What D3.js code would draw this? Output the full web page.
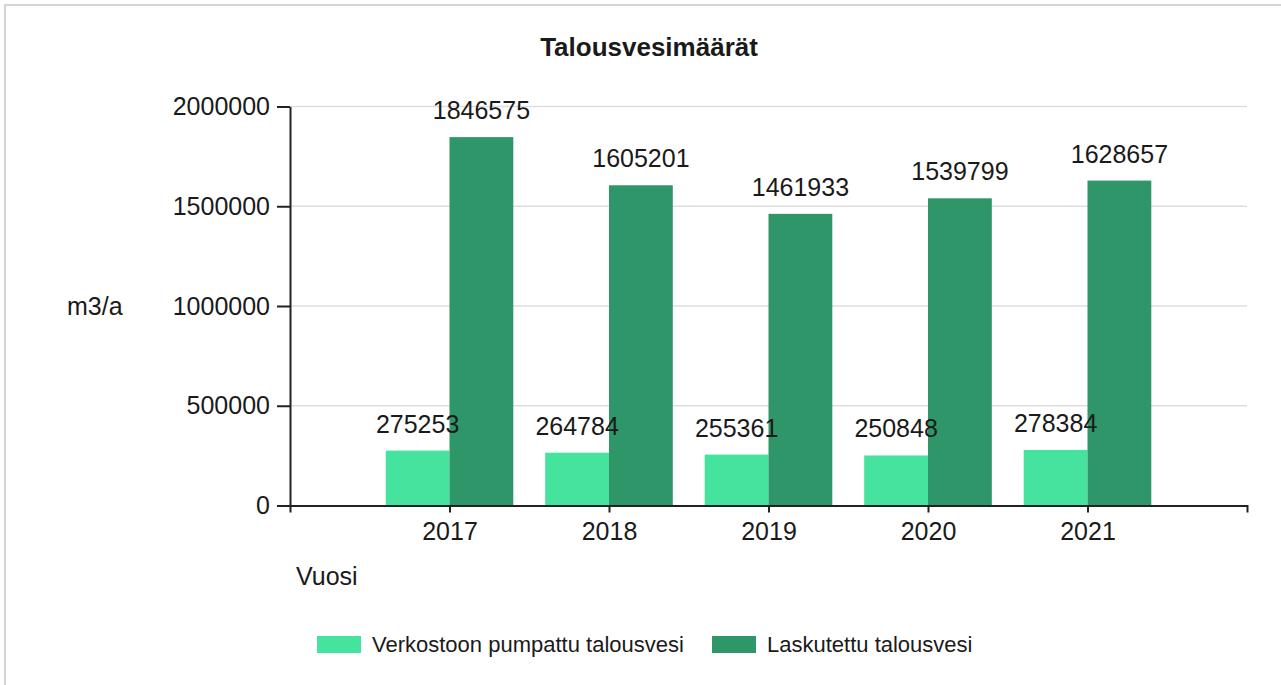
<!DOCTYPE html>
<html>
<head>
<meta charset="utf-8">
<script src="https://cdn.jsdelivr.net/npm/d3@7"></script>
<style>
  body { margin: 0; background: #fff; }
  svg text { font-family: "Liberation Sans", Arial, sans-serif; fill: #1a1a1a; }
</style>
</head>
<body>
<svg id="chart" width="1281" height="685"></svg>
<script>
// Data
var years = [2017, 2018, 2019, 2020, 2021];
var pumped = [275253, 264784, 255361, 250848, 278384];     // Verkostoon pumpattu talousvesi
var billed = [1846575, 1605201, 1461933, 1539799, 1628657]; // Laskutettu talousvesi
var seriesNames = ['Verkostoon pumpattu talousvesi', 'Laskutettu talousvesi'];
var seriesColors = ['#46e39f', '#2e9669'];
var yTicks = [0, 500000, 1000000, 1500000, 2000000];

(function () {
    var svg = d3.select('#chart');

    // outer frame
    svg.append('rect')
        .attr('x', 5).attr('y', 5)
        .attr('width', 1300).attr('height', 700)
        .attr('fill', 'none')
        .attr('stroke', '#d4d4d4')
        .attr('stroke-width', 2);

    var plotLeft = 290, plotRight = 1247, plotTop = 106.5, plotBottom = 505.5;

    //Years on a linear scale with one empty slot on each side
    var x = d3.scaleLinear().domain([2016, 2022]).range([plotLeft, plotRight]);
    var y = d3.scaleLinear().domain([0, 2000000]).range([plotBottom, plotTop]);
    var step = x(2018) - x(2017);
    var barW = step * 0.4;

    // gridlines
    svg.append('g')
        .selectAll('line')
        .data(yTicks.filter(function(d) { return d > 0; }))
        .enter().append('line')
        .attr('x1', plotLeft).attr('x2', plotRight)
        .attr('y1', function(d) { return y(d); })
        .attr('y2', function(d) { return y(d); })
        .attr('stroke', '#dedede')
        .attr('stroke-width', 1.5);

    // bars, two per year
    var rows = years.map(function(yr, i) { return {year: yr, values: [pumped[i], billed[i]]}; });
    var split = function(d) { return d.values.map(function(v, k) { return {year: d.year, v: v, k: k}; }); };

    var groups = svg.append('g').selectAll('g')
        .data(rows)
        .enter().append('g');

    groups.selectAll('rect')
        .data(split)
        .enter().append('rect')
        .attr('x', function(d) { return x(d.year) - barW + d.k * barW; })
        .attr('y', function(d) { return y(d.v); })
        .attr('width', barW)
        .attr('height', function(d) { return y(0) - y(d.v); })
        .attr('fill', function(d) { return seriesColors[d.k]; });

    // axes
    var xAxis = svg.append('g')
        .attr('transform', 'translate(0,' + plotBottom + ')')
        .call(d3.axisBottom(x).tickValues(years).tickFormat(d3.format('d'))
            .tickSize(7).tickSizeOuter(7).tickPadding(10));

    var yAxis = svg.append('g')
        .attr('transform', 'translate(' + plotLeft + ',0)')
        .call(d3.axisLeft(y).tickValues(yTicks).tickFormat(d3.format('d'))
            .tickSize(13).tickSizeOuter(0).tickPadding(7));

    [xAxis, yAxis].forEach(function(a) {
        a.selectAll('path, line').attr('stroke', '#222').attr('stroke-width', 2);
        a.selectAll('text').style('font-size', '25px').attr('fill', '#1a1a1a');
    });

    // value labels (drawn after bars so they sit on top)
    groups.selectAll('text')
        .data(split)
        .enter().append('text')
        .attr('x', function(d) { return x(d.year) - barW / 2 + d.k * barW; })
        .attr('y', function(d) { return y(d.v) - 18; })
        .attr('text-anchor', 'middle')
        .style('font-size', '25px')
        .text(function(d) { return d.v; });

    // titles
    svg.append('text')
        .attr('x', 649).attr('y', 56)
        .attr('text-anchor', 'middle')
        .style('font-size', '26px')
        .style('font-weight', 'bold')
        .text('Talousvesimäärät');

    svg.append('text')
        .attr('x', 67).attr('y', 315)
        .style('font-size', '25px')
        .text('m3/a');

    svg.append('text')
        .attr('x', 296).attr('y', 585)
        .style('font-size', '25px')
        .text('Vuosi');

    // legend
    var legendX = [317, 712];
    var legend = svg.append('g').selectAll('g')
        .data(seriesNames)
        .enter().append('g')
        .attr('transform', function(d, i) { return 'translate(' + legendX[i] + ',636)'; });

    legend.append('rect')
        .attr('width', 44).attr('height', 17)
        .attr('fill', function(d, i) { return seriesColors[i]; });

    legend.append('text')
        .attr('x', 55).attr('y', 16)
        .style('font-size', '22px')
        .text(function(d) { return d; });
}());
</script>
</body>
</html>
